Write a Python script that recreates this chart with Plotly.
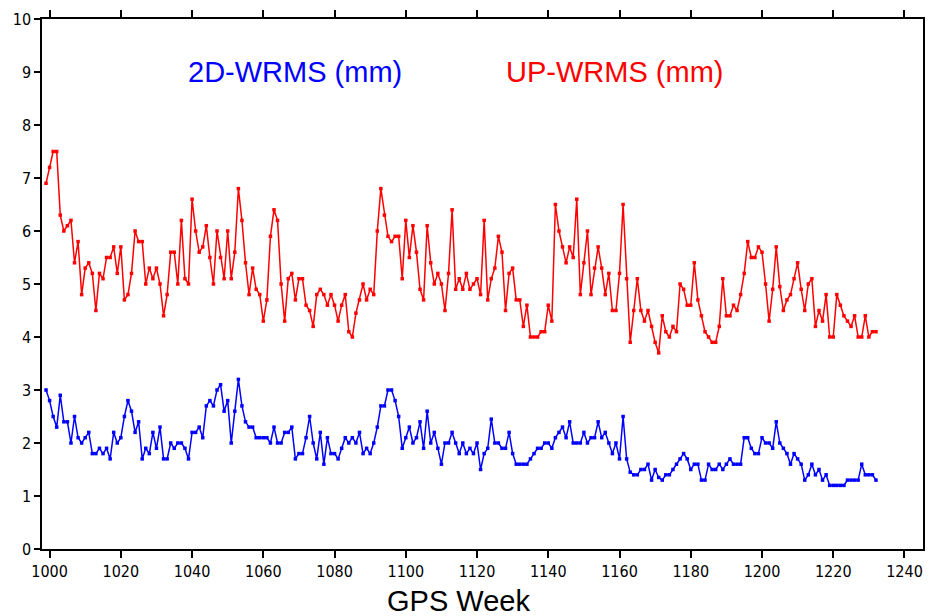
import plotly.graph_objects as go

weeks = list(range(999, 1233))

up_wrms = [
    6.9, 7.2, 7.5, 7.5, 6.3, 6.0, 6.1, 6.2, 5.4, 5.8,   # 999-1008
    4.8, 5.3, 5.4, 5.2, 4.5, 5.2, 5.1, 5.5, 5.5, 5.7,   # 1009-1018
    5.2, 5.7, 4.7, 4.8, 5.2, 6.0, 5.8, 5.8, 5.0, 5.3,   # 1019-1028
    5.1, 5.3, 5.0, 4.4, 4.8, 5.6, 5.6, 5.0, 6.2, 5.1,   # 1029-1038
    5.0, 6.6, 6.0, 5.6, 5.7, 6.1, 5.5, 5.0, 6.0, 5.5,   # 1039-1048
    5.1, 6.0, 5.1, 5.6, 6.8, 6.2, 5.4, 4.8, 5.3, 4.9,   # 1049-1058
    4.8, 4.3, 4.7, 5.9, 6.4, 6.2, 5.0, 4.3, 5.1, 5.2,   # 1059-1068
    4.7, 5.1, 5.1, 4.6, 4.5, 4.2, 4.8, 4.9, 4.8, 4.6,   # 1069-1078
    4.8, 4.6, 4.3, 4.6, 4.8, 4.1, 4.0, 4.45, 4.7, 5.0,  # 1079-1088
    4.7, 4.9, 4.8, 6.0, 6.8, 6.3, 5.9, 5.8, 5.9, 5.9,   # 1089-1098
    5.1, 6.2, 5.5, 6.1, 5.6, 4.9, 4.7, 6.1, 5.4, 5.0,   # 1099-1108
    5.2, 5.0, 4.5, 5.2, 6.4, 4.9, 5.1, 4.9, 5.2, 4.9,   # 1109-1118
    5.0, 5.1, 4.8, 6.2, 4.7, 5.1, 5.3, 5.9, 5.6, 4.5,   # 1119-1128
    5.2, 5.3, 4.7, 4.7, 4.2, 4.6, 4.0, 4.0, 4.0, 4.1,   # 1129-1138
    4.1, 4.6, 4.3, 6.5, 6.0, 5.7, 5.4, 5.7, 5.5, 6.6,   # 1139-1148
    4.8, 5.4, 6.0, 4.8, 5.3, 5.7, 5.3, 4.8, 5.2, 4.5,   # 1149-1158
    4.5, 5.2, 6.5, 5.1, 3.9, 4.5, 5.1, 4.5, 4.3, 4.5,   # 1159-1168
    4.2, 3.9, 3.7, 4.4, 4.1, 4.0, 4.2, 4.1, 5.0, 4.9,   # 1169-1178
    4.6, 4.6, 5.4, 4.7, 4.4, 4.1, 4.0, 3.9, 3.9, 4.2,   # 1179-1188
    5.1, 4.4, 4.4, 4.6, 4.5, 4.8, 5.2, 5.8, 5.5, 5.5,   # 1189-1198
    5.7, 5.6, 5.0, 4.3, 4.9, 5.7, 4.95, 4.5, 4.7, 4.8,  # 1199-1208
    5.1, 5.4, 4.9, 4.5, 5.0, 5.1, 4.2, 4.5, 4.3, 4.8,   # 1209-1218
    4.0, 4.0, 4.8, 4.6, 4.4, 4.3, 4.2, 4.4, 4.0, 4.0,   # 1219-1228
    4.4, 4.0, 4.1, 4.1,                                 # 1229-1232
]

wrms_2d = [
    3.0, 2.8, 2.5, 2.3, 2.9, 2.4, 2.4, 2.0, 2.5, 2.1,   # 999-1008
    2.0, 2.1, 2.2, 1.8, 1.8, 1.9, 1.8, 1.9, 1.7, 2.2,   # 1009-1018
    2.0, 2.1, 2.5, 2.8, 2.6, 2.2, 2.4, 1.7, 1.9, 1.8,   # 1019-1028
    2.2, 1.9, 2.3, 1.7, 1.7, 2.0, 1.9, 2.0, 2.0, 1.9,   # 1029-1038
    1.7, 2.2, 2.2, 2.3, 2.1, 2.7, 2.8, 2.7, 3.0, 3.1,   # 1039-1048
    2.6, 2.8, 2.0, 2.6, 3.2, 2.7, 2.4, 2.3, 2.3, 2.1,   # 1049-1058
    2.1, 2.1, 2.1, 2.0, 2.3, 2.0, 2.0, 2.2, 2.2, 2.3,   # 1059-1068
    1.7, 1.8, 1.8, 2.1, 2.5, 2.0, 1.7, 2.2, 1.6, 2.1,   # 1069-1078
    1.8, 1.8, 1.7, 1.9, 2.1, 2.0, 2.1, 2.0, 2.2, 1.8,   # 1079-1088
    1.9, 1.8, 2.0, 2.3, 2.7, 2.7, 3.0, 3.0, 2.8, 2.5,   # 1089-1098
    1.9, 2.1, 2.3, 2.0, 2.1, 2.4, 1.9, 2.6, 2.0, 2.2,   # 1099-1108
    1.9, 1.6, 2.0, 2.0, 2.2, 2.0, 1.8, 2.0, 1.8, 1.9,   # 1109-1118
    1.8, 2.0, 1.5, 1.8, 1.9, 2.45, 2.0, 2.0, 1.9, 1.9,  # 1119-1128
    2.2, 1.8, 1.6, 1.6, 1.6, 1.6, 1.7, 1.8, 1.9, 1.9,   # 1129-1138
    2.0, 2.0, 1.9, 2.1, 2.2, 2.3, 2.1, 2.4, 2.0, 2.0,   # 1139-1148
    2.0, 2.2, 2.0, 2.1, 2.1, 2.4, 2.1, 2.2, 2.0, 1.8,   # 1149-1158
    2.0, 1.7, 2.5, 1.7, 1.45, 1.4, 1.4, 1.5, 1.5, 1.6,  # 1159-1168
    1.3, 1.5, 1.35, 1.3, 1.4, 1.4, 1.5, 1.6, 1.7, 1.8,  # 1169-1178
    1.7, 1.5, 1.6, 1.6, 1.3, 1.3, 1.6, 1.5, 1.5, 1.6,   # 1179-1188
    1.5, 1.6, 1.7, 1.6, 1.6, 1.6, 2.1, 2.1, 1.9, 1.8,   # 1189-1198
    1.8, 2.1, 2.0, 2.0, 1.9, 2.4, 2.0, 1.9, 1.8, 1.6,   # 1199-1208
    1.8, 1.7, 1.6, 1.3, 1.4, 1.6, 1.4, 1.5, 1.3, 1.4,   # 1209-1218
    1.2, 1.2, 1.2, 1.2, 1.2, 1.3, 1.3, 1.3, 1.3, 1.6,   # 1219-1228
    1.4, 1.4, 1.4, 1.3,                                 # 1229-1232
]

series_labels = ["2D-WRMS (mm)", "UP-WRMS (mm)"]
x_title = "GPS Week"

tick_font = dict(family="Liberation Sans Narrow, DejaVu Sans Condensed, Liberation Sans, Arial", size=16, color="black")
label_font = "Liberation Sans, Arial, sans-serif"

fig = go.Figure()
fig.add_trace(go.Scatter(
    x=weeks, y=up_wrms, mode="lines+markers",
    line=dict(color="#ff0000", width=1.5),
    marker=dict(color="#ff0000", symbol="square", size=3.5),
    showlegend=False, hoverinfo="x+y",
))
fig.add_trace(go.Scatter(
    x=weeks, y=wrms_2d, mode="lines+markers",
    line=dict(color="#0000ff", width=1.5),
    marker=dict(color="#0000ff", symbol="square", size=3.5),
    showlegend=False, hoverinfo="x+y",
))

fig.add_annotation(x=1069, y=9.0, xref="x", yref="y", text=series_labels[0],
                   showarrow=False, font=dict(family=label_font, size=29, color="#0000ff"))
fig.add_annotation(x=1158.5, y=9.0, xref="x", yref="y", text=series_labels[1],
                   showarrow=False, font=dict(family=label_font, size=29, color="#ff0000"))
fig.add_annotation(x=0.4726, y=-0.098, xref="paper", yref="paper", text=x_title,
                   showarrow=False, yanchor="middle",
                   font=dict(family=label_font, size=29, color="black"))

fig.update_layout(
    width=928, height=616,
    margin=dict(l=42, r=3, t=19, b=67),
    paper_bgcolor="white", plot_bgcolor="white",
)
fig.update_xaxes(
    range=[997.87, 1245.2], tick0=1000, dtick=20,
    showgrid=False, zeroline=False,
    showline=True, linecolor="black", linewidth=1.5, mirror="ticks",
    ticks="outside", ticklen=7, tickwidth=1.5, tickcolor="black",
    tickfont=tick_font,
)
fig.update_yaxes(
    range=[0, 10], tick0=0, dtick=1,
    showgrid=False, zeroline=False,
    showline=True, linecolor="black", linewidth=1.5, mirror=True,
    ticks="outside", ticklen=6, tickwidth=1.5, tickcolor="black",
    tickfont=tick_font,
)

fig.write_html("out.html", config={"displayModeBar": False},
               post_script="document.body.style.margin='0';document.body.style.overflow='hidden';")
